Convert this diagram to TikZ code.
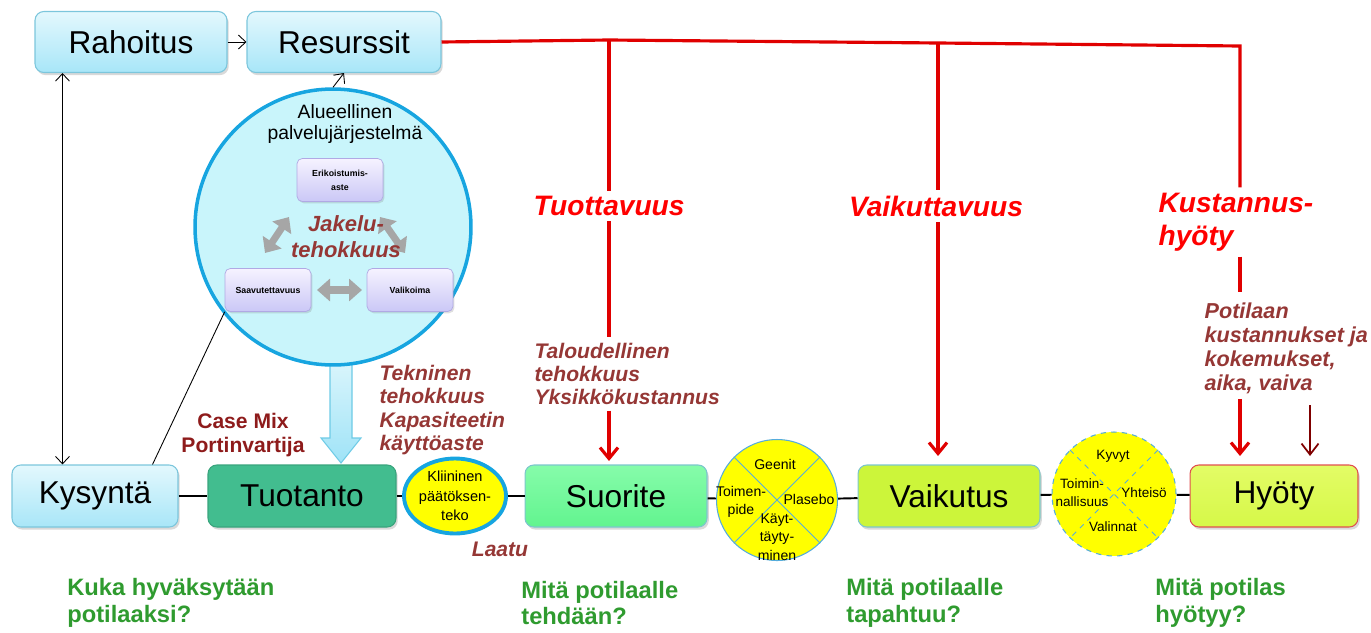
\documentclass[tikz,border=0pt]{standalone}
\usepackage{fontspec}
\setmainfont{Liberation Sans}
\usetikzlibrary{arrows.meta,shadows,shapes.geometric,calc}

\definecolor{skytop}{HTML}{E3F8FD}
\definecolor{skybot}{HTML}{A8E6F8}
\definecolor{skyedge}{HTML}{7CC6DC}
\definecolor{prodgreen}{HTML}{42BD8F}
\definecolor{prodedge}{HTML}{39A47D}
\definecolor{outtop}{HTML}{86FCAA}
\definecolor{outbot}{HTML}{62F48F}
\definecolor{effgreen}{HTML}{CCF53A}
\definecolor{bentop}{HTML}{E3FC66}
\definecolor{benbot}{HTML}{D6F848}
\definecolor{tealedge}{HTML}{7CC6CC}
\definecolor{benedge}{HTML}{E05050}
\definecolor{lilatop}{HTML}{F5F3FF}
\definecolor{lilabot}{HTML}{CBC7F6}
\definecolor{lilaedge}{HTML}{B0A9E4}
\definecolor{aluefill}{HTML}{C9F5FB}
\definecolor{alueedge}{HTML}{17A5E0}
\definecolor{crossblue}{HTML}{55ACDD}
\definecolor{ballyellow}{HTML}{FFFF00}
\definecolor{labelred}{HTML}{953735}
\definecolor{casered}{HTML}{8E1B1B}
\definecolor{linered}{HTML}{E00000}
\definecolor{titlered}{HTML}{FF0000}
\definecolor{darkarrowred}{HTML}{7F0000}
\definecolor{questgreen}{HTML}{2F9B2F}
\definecolor{greyarrow}{HTML}{A6A6A6}
\definecolor{bigtop}{HTML}{E6F9FD}
\definecolor{bigbot}{HTML}{9FE3F7}
\definecolor{bigedge}{HTML}{6ECBE6}

\tikzset{
  boxbase/.style={rectangle, rounded corners=5pt, minimum height=1.24cm, line width=0.6pt,
    font=\fontsize{18}{20}\selectfont,
    drop shadow={shadow xshift=1pt, shadow yshift=-1.5pt, opacity=0.3}},
  skybox/.style={boxbase, draw=skyedge, top color=skytop, bottom color=skybot},
  lilabox/.style={rectangle, rounded corners=3pt, minimum width=1.72cm, minimum height=0.86cm,
    draw=lilaedge, top color=lilatop, bottom color=lilabot, align=center,
    font=\fontsize{5}{8}\selectfont\bfseries,
    drop shadow={shadow xshift=0.8pt, shadow yshift=-1pt, opacity=0.25}},
  yellowball/.style={circle, fill=ballyellow, draw=crossblue, line width=0.6pt, inner sep=0pt},
  crossline/.style={draw=crossblue, line width=0.5pt},
  balltext/.style={align=center, inner sep=0pt, font=\fontsize{8}{10.4}\selectfont},
  rowline/.style={line width=1.1pt},
  thinarrow/.style={line width=0.5pt, -{Straight Barb[length=1.5mm,width=2.8mm]}},
  redline/.style={draw=linered, line width=1.8pt},
  redarrow/.style={redline, -{Straight Barb[length=2.2mm,width=3.6mm]}},
  darkarrow/.style={draw=darkarrowred, line width=1pt, -{Straight Barb[length=2.2mm,width=3.4mm]}},
  greyboth/.style={draw=greyarrow, line width=4pt,
    {Triangle[length=2.6mm,width=4.4mm]}-{Triangle[length=2.6mm,width=4.4mm]}},
  titletext/.style={text=titlered, inner sep=3pt, font=\fontsize{16}{18.7}\selectfont\bfseries\itshape},
  measuretext/.style={text=labelred, align=left, inner sep=3pt, font=\fontsize{12}{13.3}\selectfont\bfseries\itshape},
  questtext/.style={text=questgreen, align=left, inner sep=0pt, anchor=west, font=\fontsize{13.5}{15.3}\selectfont\bfseries}
}

\begin{document}
\begin{tikzpicture}[x=0.02cm, y=-0.02cm]
\useasboundingbox (0,0) rectangle (1371,632);

% big block arrow from the regional system down to production
\draw[line width=0.6pt, draw=bigedge, top color=bigtop, bottom color=bigbot]
  (330,340) -- (330,438) -- (321,438) -- (341,463) -- (361,438) -- (352,438) -- (352,340) -- cycle;

% regional service system
\node[circle, minimum size=5.52cm, fill=aluefill, draw=alueedge, line width=2pt] (alue) at (333,227) {};
\node[align=center, font=\fontsize{11}{12.5}\selectfont] (aluetitle) at (345,124) {Alueellinen\\palvelujärjestelmä};
\node[lilabox] (erikois) at (340,180) {Erikoistumis-\\aste};
\node[lilabox] (saav) at (268,290) {Saavutettavuus};
\node[lilabox] (valik) at (410,290) {Valikoima};
\draw[greyboth] (265,253) -- (289,217);
\draw[greyboth] (380,217) -- (405,253);
\draw[greyboth] (317,290) -- (362,290);
\node[align=center, text=labelred, font=\fontsize{12.5}{14.7}\selectfont\bfseries\itshape] (jakelu) at (346,237) {Jakelu-\\tehokkuus};

% top boxes
\node[skybox, minimum width=3.84cm, minimum height=1.22cm] (rahoitus) at (131,42) {Rahoitus};
\node[skybox, minimum width=3.88cm, minimum height=1.22cm] (resurssit) at (344,42) {Resurssit};

% main row
\node[skybox, minimum width=3.32cm] (kysynta) at (95,496) {Kysyntä};
\node[boxbase, minimum width=3.76cm, fill=prodgreen, draw=prodedge] (tuotanto) at (302,496) {Tuotanto};
\node[ellipse, minimum width=1.8cm, minimum height=1.5cm, inner sep=0pt, fill=ballyellow, draw=alueedge,
  line width=2.2pt, align=center, font=\fontsize{8.3}{11}\selectfont] (kliininen) at (455,496) {Kliininen\\päätöksen-\\teko};
\node[boxbase, minimum width=3.64cm, draw=tealedge, top color=outtop, bottom color=outbot] (suorite) at (616,496) {Suorite};
\node[yellowball, minimum size=2.42cm] (ympyra1) at (777,500) {};
\node[boxbase, minimum width=3.64cm, draw=tealedge, fill=effgreen] (vaikutus) at (949,496) {Vaikutus};
\node[yellowball, minimum size=2.48cm, dashed] (ympyra2) at (1114,494) {};
\node[boxbase, minimum width=3.36cm, draw=benedge, top color=bentop, bottom color=benbot] (hyoty) at (1274,496) {Hyöty};

% contents of the yellow circles
\draw[crossline] (ympyra1.north west) -- (ympyra1.south east);
\draw[crossline] (ympyra1.north east) -- (ympyra1.south west);
\node[balltext] (geenit) at (775,464) {Geenit};
\node[balltext] (toimenpide) at (741,502) {Toimen-\\pide};
\node[balltext] (plasebo) at (809,499) {Plasebo};
\node[balltext] (kayttaytyminen) at (777,537) {Käyt-\\täyty-\\minen};
\draw[crossline, dashed] (ympyra2.north west) -- (ympyra2.south east);
\draw[crossline, dashed] (ympyra2.north east) -- (ympyra2.south west);
\node[balltext, font=\fontsize{7.7}{10.2}\selectfont] (kyvyt) at (1113,456) {Kyvyt};
\node[balltext, font=\fontsize{7.7}{10.2}\selectfont] (toiminnallisuus) at (1082,493) {Toimin-\\nallisuus};
\node[balltext, font=\fontsize{7.7}{10.2}\selectfont] (yhteiso) at (1144,493) {Yhteisö};
\node[balltext, font=\fontsize{7.7}{10.2}\selectfont] (valinnat) at (1113,527) {Valinnat};

% black connectors
\draw[rowline] (kysynta) -- (tuotanto);
\draw[rowline] (tuotanto) -- (kliininen);
\draw[rowline] (kliininen) -- (suorite);
\draw[rowline] (suorite) -- (ympyra1);
\draw[rowline] (ympyra1) -- (vaikutus);
\draw[rowline] (vaikutus) -- (ympyra2);
\draw[rowline] (ympyra2) -- (hyoty);
\draw[thinarrow] (rahoitus) -- (resurssit);
\draw[thinarrow] (alue.north) -- (resurssit.south);
\draw[thinarrow, {Straight Barb[length=1.5mm,width=2.8mm]}-{Straight Barb[length=1.5mm,width=2.8mm]}]
  ($(rahoitus.south west)+(28,0)$) -- ($(kysynta.north west)+(51,0)$);
\draw[line width=0.5pt] (saav.south west) -- ($(kysynta.north east)+(-26,0)$);

% labels
\node[text=casered, align=center, font=\fontsize{12}{13.6}\selectfont\bfseries] (casemix) at (243,435) {Case Mix\\Portinvartija};
\node[measuretext, anchor=west] (tekninen) at (374,410) {Tekninen\\tehokkuus\\Kapasiteetin\\käyttöaste};
\node[measuretext, anchor=center] (laatu) at (500,549) {Laatu};
\node[measuretext, anchor=west] (talous) at (529,374) {Taloudellinen\\tehokkuus\\Yksikkökustannus};
\node[measuretext, anchor=west, font=\fontsize{12.3}{13.6}\selectfont\bfseries\itshape] (potilaan) at (1199,348) {Potilaan\\kustannukset ja\\kokemukset,\\aika, vaiva};
\node[titletext] (tuottavuus) at (609,206) {Tuottavuus};
\node[titletext] (vaikuttavuus) at (936,206) {Vaikuttavuus};
\node[titletext, align=left, anchor=west] (kustannus) at (1153,222) {Kustannus-\\hyöty};

% red tree from the resources
\coordinate (r1) at (609,40);
\coordinate (r2) at (938,43);
\coordinate (r3) at (1240,46);
\coordinate (a1) at (609,461);
\coordinate (a2) at (938,456);
\coordinate (k1) at (1240,292);
\coordinate (a3) at (1240,456);
\coordinate (d0) at (1310,405);
\coordinate (d1) at (1310,456);
\draw[redline] (resurssit.east) -- (r1) -- (r2) -- (r3) -- (r3 |- kustannus.north);
\draw[redline] (r1) -- (r1 |- tuottavuus.north);
\draw[redline] (r1 |- tuottavuus.south) -- (r1 |- talous.north);
\draw[redarrow] (r1 |- talous.south) -- (a1);
\draw[redline] (r2) -- (r2 |- vaikuttavuus.north);
\draw[redarrow] (r2 |- vaikuttavuus.south) -- (a2);
\draw[redline] (r3 |- kustannus.south) -- (k1);
\draw[redarrow] (r3 |- potilaan.south) -- (a3);
\draw[darkarrow] (d0) -- (d1);

% questions
\node[questtext] (kuka) at (67,603) {Kuka hyväksytään\\potilaaksi?};
\node[questtext] (tehdaan) at (521,603) {Mitä potilaalle\\tehdään?};
\node[questtext] (tapahtuu) at (846,603) {Mitä potilaalle\\tapahtuu?};
\node[questtext] (hyotyy) at (1155,603) {Mitä potilas\\hyötyy?};
\end{tikzpicture}
\end{document}
